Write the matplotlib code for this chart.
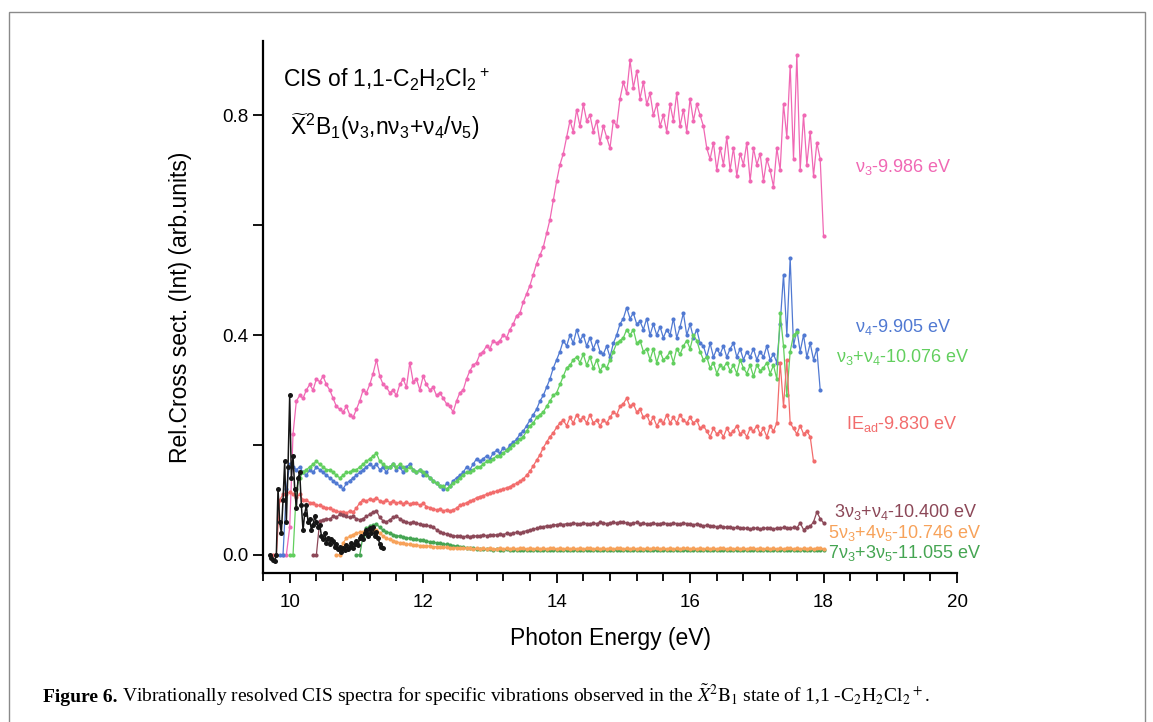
import numpy as np
import matplotlib
matplotlib.use("Agg")
import matplotlib.pyplot as plt
from matplotlib.patches import Rectangle
from matplotlib.ticker import FixedLocator

plt.rcParams['font.family'] = ['Liberation Sans', 'DejaVu Sans']
plt.rcParams['mathtext.fontset'] = 'custom'
plt.rcParams['mathtext.rm'] = 'Liberation Sans'
plt.rcParams['mathtext.it'] = 'Liberation Sans:italic'
plt.rcParams['mathtext.bf'] = 'Liberation Sans:bold'

STEP = 0.05

# ---- series data (start energy, values every STEP eV) ----
pink_start = 9.90
pink_vals = [0.0, 0.0,
    0.05, 0.22, 0.28, 0.29, 0.285, 0.30, 0.31, 0.30, 0.32, 0.315,
    0.325, 0.31, 0.30, 0.285, 0.27, 0.265, 0.26, 0.27, 0.255, 0.25,
    0.265, 0.28, 0.30, 0.295, 0.31, 0.33, 0.355, 0.325, 0.31, 0.305,
    0.295, 0.30, 0.29, 0.31, 0.32, 0.305, 0.35, 0.315, 0.32, 0.30,
    0.325, 0.31, 0.30, 0.305, 0.29, 0.295, 0.285, 0.275, 0.27, 0.26,
    0.28, 0.295, 0.30, 0.32, 0.335, 0.345, 0.35, 0.365, 0.37, 0.38,
    0.375, 0.39, 0.385, 0.39, 0.40, 0.395, 0.41, 0.42, 0.435, 0.44,
    0.46, 0.475, 0.49, 0.51, 0.53, 0.545, 0.56, 0.585, 0.61, 0.645,
    0.68, 0.71, 0.73, 0.76, 0.79, 0.77, 0.81, 0.78, 0.82, 0.79,
    0.80, 0.77, 0.79, 0.75, 0.78, 0.76, 0.74, 0.79, 0.78, 0.83,
    0.86, 0.84, 0.90, 0.85, 0.88, 0.83, 0.86, 0.82, 0.84, 0.80,
    0.82, 0.78, 0.80, 0.77, 0.82, 0.79, 0.84, 0.78, 0.81, 0.77,
    0.83, 0.79, 0.82, 0.80, 0.78, 0.74, 0.72, 0.75, 0.70, 0.74,
    0.71, 0.76, 0.70, 0.74, 0.69, 0.73, 0.71, 0.75, 0.68, 0.74,
    0.71, 0.73, 0.68, 0.72, 0.70, 0.67, 0.74, 0.70, 0.82, 0.76,
    0.89, 0.72, 0.91, 0.70, 0.80, 0.71, 0.77, 0.69, 0.75, 0.72,
    0.58]

blue_start = 9.85
blue_vals = [0.0, 0.0,
    0.12, 0.165, 0.16, 0.155, 0.16, 0.15, 0.145, 0.155, 0.15, 0.16,
    0.155, 0.15, 0.145, 0.14, 0.135, 0.13, 0.125, 0.12, 0.13, 0.135,
    0.14, 0.145, 0.15, 0.155, 0.16, 0.165, 0.16, 0.165, 0.155, 0.16,
    0.15, 0.16, 0.165, 0.155, 0.16, 0.15, 0.16, 0.165, 0.155, 0.15,
    0.155, 0.145, 0.15, 0.14, 0.135, 0.13, 0.125, 0.12, 0.13, 0.125,
    0.135, 0.14, 0.145, 0.15, 0.16, 0.155, 0.165, 0.175, 0.17, 0.175,
    0.18, 0.175, 0.185, 0.19, 0.185, 0.195, 0.19, 0.20, 0.205, 0.21,
    0.22, 0.225, 0.235, 0.245, 0.255, 0.265, 0.28, 0.29, 0.305, 0.32,
    0.34, 0.355, 0.37, 0.39, 0.38, 0.40, 0.385, 0.41, 0.39, 0.40,
    0.38, 0.395, 0.375, 0.39, 0.37, 0.365, 0.38, 0.36, 0.385, 0.40,
    0.42, 0.43, 0.45, 0.43, 0.44, 0.42, 0.425, 0.41, 0.43, 0.40,
    0.42, 0.40, 0.415, 0.395, 0.41, 0.40, 0.43, 0.395, 0.415, 0.44,
    0.40, 0.42, 0.395, 0.41, 0.385, 0.38, 0.36, 0.385, 0.36, 0.375,
    0.365, 0.38, 0.36, 0.375, 0.385, 0.36, 0.375, 0.355, 0.37, 0.36,
    0.375, 0.355, 0.37, 0.36, 0.38, 0.355, 0.365, 0.35, 0.42, 0.51,
    0.40, 0.54, 0.38, 0.41, 0.37, 0.40, 0.36, 0.385, 0.355, 0.375,
    0.30]

green_start = 10.00
green_vals = [0.0, 0.0,
    0.12, 0.14, 0.15, 0.155, 0.16, 0.165, 0.17, 0.165, 0.16, 0.155,
    0.155, 0.15, 0.145, 0.14, 0.145, 0.15, 0.15, 0.155, 0.155, 0.16,
    0.165, 0.17, 0.175, 0.18, 0.185, 0.17, 0.165, 0.16, 0.16, 0.165,
    0.16, 0.165, 0.16, 0.155, 0.16, 0.155, 0.15, 0.155, 0.15, 0.145,
    0.14, 0.135, 0.13, 0.125, 0.125, 0.12, 0.125, 0.13, 0.135, 0.14,
    0.145, 0.15, 0.15, 0.155, 0.16, 0.16, 0.165, 0.17, 0.17, 0.175,
    0.18, 0.18, 0.185, 0.19, 0.195, 0.20, 0.205, 0.21, 0.215, 0.225,
    0.235, 0.24, 0.25, 0.255, 0.26, 0.27, 0.28, 0.29, 0.295, 0.31,
    0.325, 0.34, 0.345, 0.355, 0.36, 0.35, 0.365, 0.345, 0.36, 0.34,
    0.355, 0.335, 0.345, 0.34, 0.355, 0.37, 0.385, 0.39, 0.395, 0.41,
    0.40, 0.41, 0.385, 0.39, 0.37, 0.375, 0.355, 0.375, 0.35, 0.37,
    0.355, 0.36, 0.37, 0.35, 0.375, 0.365, 0.38, 0.39, 0.375, 0.40,
    0.39, 0.37, 0.355, 0.36, 0.34, 0.35, 0.33, 0.345, 0.34, 0.35,
    0.335, 0.345, 0.33, 0.355, 0.34, 0.33, 0.345, 0.325, 0.345, 0.335,
    0.34, 0.35, 0.33, 0.345, 0.32, 0.44, 0.38, 0.29, 0.37, 0.40,
    0.405]

red_start = 9.75
red_vals = [0.0, 0.0,
    0.10, 0.11, 0.11, 0.115, 0.11, 0.105, 0.11, 0.10, 0.10, 0.095,
    0.095, 0.09, 0.09, 0.088, 0.085, 0.085, 0.082, 0.08, 0.078, 0.078,
    0.076, 0.08, 0.078, 0.085, 0.095, 0.10, 0.098, 0.102, 0.10, 0.104,
    0.098, 0.096, 0.10, 0.095, 0.098, 0.094, 0.096, 0.093, 0.097, 0.092,
    0.095, 0.094, 0.09, 0.094, 0.088, 0.086, 0.084, 0.082, 0.083, 0.08,
    0.082, 0.08, 0.082, 0.085, 0.09, 0.092, 0.095, 0.098, 0.10, 0.104,
    0.106, 0.108, 0.11, 0.112, 0.114, 0.116, 0.118, 0.12, 0.122, 0.124,
    0.128, 0.13, 0.134, 0.138, 0.145, 0.152, 0.162, 0.172, 0.182, 0.195,
    0.205, 0.215, 0.222, 0.232, 0.24, 0.245, 0.235, 0.25, 0.24, 0.255,
    0.245, 0.25, 0.24, 0.255, 0.24, 0.245, 0.235, 0.245, 0.24, 0.25,
    0.26, 0.255, 0.27, 0.275, 0.285, 0.27, 0.275, 0.26, 0.265, 0.25,
    0.255, 0.24, 0.25, 0.235, 0.245, 0.24, 0.255, 0.24, 0.25, 0.24,
    0.255, 0.245, 0.24, 0.25, 0.24, 0.245, 0.23, 0.235, 0.225, 0.215,
    0.23, 0.22, 0.225, 0.215, 0.23, 0.22, 0.225, 0.235, 0.22, 0.225,
    0.215, 0.23, 0.225, 0.235, 0.22, 0.23, 0.215, 0.235, 0.225, 0.24,
    0.35, 0.27, 0.355, 0.24, 0.23, 0.22, 0.235, 0.22, 0.225, 0.215,
    0.17]

maroon_start = 10.35
maroon_vals = [0.0,
    0.0, 0.062, 0.064, 0.066, 0.065, 0.07, 0.068, 0.074, 0.072, 0.07,
    0.068, 0.07, 0.066, 0.064, 0.066, 0.07, 0.074, 0.078, 0.08, 0.068,
    0.062, 0.06, 0.064, 0.068, 0.07, 0.066, 0.062, 0.06, 0.058, 0.06,
    0.058, 0.056, 0.055, 0.054, 0.052, 0.05, 0.046, 0.042, 0.04, 0.038,
    0.036, 0.035, 0.034, 0.034, 0.033, 0.034, 0.033, 0.035, 0.034, 0.035,
    0.036, 0.035, 0.036, 0.037, 0.036, 0.038, 0.037, 0.039, 0.038, 0.04,
    0.041, 0.04, 0.042, 0.044, 0.045, 0.047, 0.048, 0.05, 0.051, 0.053,
    0.052, 0.054, 0.055, 0.056, 0.055, 0.057, 0.056, 0.058, 0.057, 0.056,
    0.058, 0.057, 0.056, 0.058, 0.057, 0.059, 0.058, 0.057, 0.058, 0.059,
    0.058, 0.06, 0.059, 0.058, 0.057, 0.058, 0.059, 0.057, 0.058, 0.056,
    0.057, 0.058, 0.056, 0.057, 0.058, 0.057, 0.056, 0.058, 0.057, 0.056,
    0.058, 0.057, 0.056, 0.055, 0.056, 0.054, 0.053, 0.054, 0.052, 0.053,
    0.051, 0.052, 0.05, 0.051, 0.05, 0.049, 0.05, 0.048, 0.049, 0.048,
    0.047, 0.048, 0.049, 0.047, 0.048, 0.049, 0.048, 0.047, 0.049, 0.048,
    0.05, 0.049, 0.048, 0.05, 0.049, 0.058, 0.046, 0.05, 0.052, 0.06,
    0.078, 0.066, 0.058]

orange_start = 10.70
orange_vals = [0.0,
    0.0, 0.022, 0.03, 0.034, 0.037, 0.04, 0.041, 0.042, 0.043, 0.044,
    0.045, 0.046, 0.04, 0.034, 0.03, 0.028, 0.026, 0.024, 0.022, 0.021,
    0.02, 0.019, 0.018, 0.018, 0.017, 0.017, 0.016, 0.016, 0.015, 0.015,
    0.014, 0.014, 0.014, 0.013, 0.013, 0.013, 0.012, 0.012, 0.012, 0.012,
    0.011, 0.012, 0.011, 0.012, 0.011, 0.012, 0.011, 0.011, 0.012, 0.011,
    0.012, 0.011, 0.012, 0.011, 0.012, 0.012, 0.011, 0.012, 0.011, 0.012,
    0.011, 0.012, 0.011, 0.012, 0.012, 0.011, 0.012, 0.011, 0.012, 0.011,
    0.012, 0.011, 0.012, 0.011, 0.012, 0.012, 0.011, 0.012, 0.011, 0.012,
    0.011, 0.012, 0.011, 0.012, 0.012, 0.011, 0.012, 0.011, 0.012, 0.011,
    0.012, 0.011, 0.012, 0.011, 0.012, 0.012, 0.011, 0.012, 0.011, 0.012,
    0.011, 0.012, 0.011, 0.012, 0.012, 0.011, 0.012, 0.011, 0.012, 0.011,
    0.012, 0.011, 0.012, 0.011, 0.012, 0.012, 0.011, 0.012, 0.011, 0.012,
    0.011, 0.012, 0.011, 0.012, 0.012, 0.011, 0.012, 0.011, 0.012, 0.011,
    0.012, 0.011, 0.012, 0.011, 0.012, 0.012, 0.011, 0.012, 0.011, 0.012,
    0.011, 0.012, 0.011, 0.012, 0.012, 0.011]

dkgreen_start = 11.00
dkgreen_vals = [0.0,
    0.0, 0.035, 0.048, 0.052, 0.054, 0.056, 0.05, 0.045, 0.042, 0.04,
    0.037, 0.035, 0.034, 0.033, 0.031, 0.03, 0.029, 0.028, 0.027, 0.027,
    0.025, 0.024, 0.023, 0.022, 0.021, 0.02, 0.019, 0.018, 0.017, 0.016,
    0.015, 0.014, 0.013, 0.012, 0.012, 0.011, 0.011, 0.01, 0.01, 0.01,
    0.009, 0.01, 0.009, 0.009, 0.01, 0.009, 0.008, 0.009, 0.009, 0.008,
    0.009, 0.008, 0.009, 0.008, 0.009, 0.009, 0.008, 0.009, 0.008, 0.009,
    0.008, 0.009, 0.008, 0.009, 0.009, 0.008, 0.009, 0.008, 0.009, 0.008,
    0.009, 0.008, 0.009, 0.008, 0.009, 0.009, 0.008, 0.009, 0.008, 0.009,
    0.008, 0.009, 0.008, 0.009, 0.009, 0.008, 0.009, 0.008, 0.009, 0.008,
    0.009, 0.008, 0.009, 0.008, 0.009, 0.009, 0.008, 0.009, 0.008, 0.009,
    0.008, 0.009, 0.008, 0.009, 0.009, 0.008, 0.009, 0.008, 0.009, 0.008,
    0.009, 0.008, 0.009, 0.008, 0.009, 0.009, 0.008, 0.009, 0.008, 0.009,
    0.008, 0.009, 0.008, 0.009, 0.009, 0.008, 0.009, 0.008, 0.009, 0.008,
    0.009, 0.008, 0.009, 0.008, 0.009, 0.009, 0.008, 0.009, 0.008, 0.009]

black_start = 9.70
black_step = 0.025
black_vals = [
    0.0, -0.005, -0.01, -0.012, 0.0, 0.12, 0.06, 0.04, 0.10, 0.17, 0.06, 0.16,
    0.29, 0.14, 0.18, 0.12, 0.085, 0.14, 0.15, 0.09, 0.045, 0.075, 0.09, 0.06,
    0.065, 0.045, 0.055, 0.07, 0.06, 0.05, 0.055, 0.035, 0.028, 0.04, 0.022, 0.03,
    0.02, 0.028, 0.025, 0.015, 0.02, 0.01, 0.015, 0.005, 0.012, 0.008, 0.018, 0.01,
    0.015, 0.022, 0.012, 0.02, 0.025, 0.018, 0.03, 0.035, 0.028, 0.04, 0.045, 0.035,
    0.048, 0.04, 0.05, 0.035, 0.042, 0.03, 0.02, 0.015, 0.012]

labels = [r'ν$_3$-9.986 eV', r'ν$_4$-9.905 eV', r'ν$_3$+ν$_4$-10.076 eV',
          r'IE$_\mathrm{ad}$-9.830 eV', r'3ν$_3$+ν$_4$-10.400 eV',
          r'5ν$_3$+4ν$_5$-10.746 eV', r'7ν$_3$+3ν$_5$-11.055 eV']
colors = {'pink': '#f068b4', 'blue': '#5079d2', 'green': '#62cf5e', 'red': '#f26c6c',
          'maroon': '#8c4858', 'orange': '#f7a25a', 'dkgreen': '#45a552', 'black': '#151515'}

xticks = [10, 12, 14, 16, 18, 20]
yticks = [0.0, 0.2, 0.4, 0.6, 0.8]
ytick_labels = ['0.0', '', '0.4', '', '0.8']

# ---- figure ----
W, H = 1153, 722
fig = plt.figure(figsize=(W / 100, H / 100), dpi=100)
ax = fig.add_axes([263 / W, 1 - 573 / H, 694 / W, 532 / H])


def energies(start, n, step=STEP):
    return start + step * np.arange(n)


def draw(start, vals, color, step=STEP, ms=3.0, lw=0.9, z=2):
    x = energies(start, len(vals), step)
    ax.plot(x, vals, '-', color=color, lw=lw, marker='o', ms=ms, mew=0, zorder=z)


draw(pink_start, pink_vals, colors['pink'])
draw(blue_start, blue_vals, colors['blue'])
draw(green_start, green_vals, colors['green'])
draw(red_start, red_vals, colors['red'])
draw(maroon_start, maroon_vals, colors['maroon'])
draw(dkgreen_start, dkgreen_vals, colors['dkgreen'])
draw(orange_start, orange_vals, colors['orange'])
draw(black_start, black_vals, colors['black'], step=black_step, ms=3.6, lw=1.1, z=3)

ax.set_xlim(9.6, 20.0)
ax.set_ylim(-0.033, 0.935)
for s in ['top', 'right']:
    ax.spines[s].set_visible(False)
for s in ['left', 'bottom']:
    ax.spines[s].set_linewidth(1.6)
ax.set_xticks(xticks)
ax.set_xticklabels([str(t) for t in xticks])
ax.xaxis.set_minor_locator(FixedLocator([9.6 + 0.4 * k for k in range(27)]))
ax.set_yticks(yticks)
ax.set_yticklabels(ytick_labels)
ax.tick_params(axis='both', which='major', length=7, width=1.3, labelsize=13.5, direction='out')
ax.tick_params(axis='x', which='minor', length=6, width=1.3, direction='out')
ax.tick_params(axis='x', pad=8)

ax.set_xlabel('Photon Energy (eV)', fontsize=16.5, labelpad=12)
ax.set_ylabel('Rel.Cross sect. (Int) (arb.units)', fontsize=16.5, labelpad=22)

# annotations
ax.text(9.9, 0.865, r'CIS of 1,1-C$_2$H$_2$Cl$_2$$^+$', fontsize=16.5, ha='left', va='center')
ax.text(10.0, 0.78, r'$\widetilde{\mathrm{X}}^2\mathrm{B}_1$(ν$_3$,nν$_3$+ν$_4$/ν$_5$)',
        fontsize=16.5, ha='left', va='center')

lab_pos = [(18.47, 0.705, 'pink'), (18.47, 0.415, 'blue'), (18.18, 0.36, 'green'),
           (18.33, 0.238, 'red'), (18.15, 0.078, 'maroon'), (18.07, 0.04, 'orange'),
           (18.07, 0.004, 'dkgreen')]
for (lx, ly, c), txt in zip(lab_pos, labels):
    ax.text(lx, ly, txt, color=colors[c], fontsize=13, ha='left', va='center')

# frame box
fig.patches.append(Rectangle((9 / W, -0.05), (1145 - 9) / W, (722 - 12) / H + 0.05,
                             transform=fig.transFigure, fill=False, ec='#8a8a8a', lw=1.0))

# caption
cy = 1 - 702 / H
t1 = fig.text(43 / W, cy, 'Figure 6.', fontsize=14, fontweight='bold',
              family='Liberation Serif', va='baseline', ha='left')
fig.canvas.draw()
bb = t1.get_window_extent()
fig.text((bb.x1 + 5) / W, cy,
         r'Vibrationally resolved CIS spectra for specific vibrations observed in the '
         r'$\tilde{X}^2\mathrm{B}_1$ state of 1,1 -C$_2$H$_2$Cl$_2$$^+$.',
         fontsize=14, family='Liberation Serif', math_fontfamily='stix',
         va='baseline', ha='left')

fig.savefig('out.png', dpi=100)
